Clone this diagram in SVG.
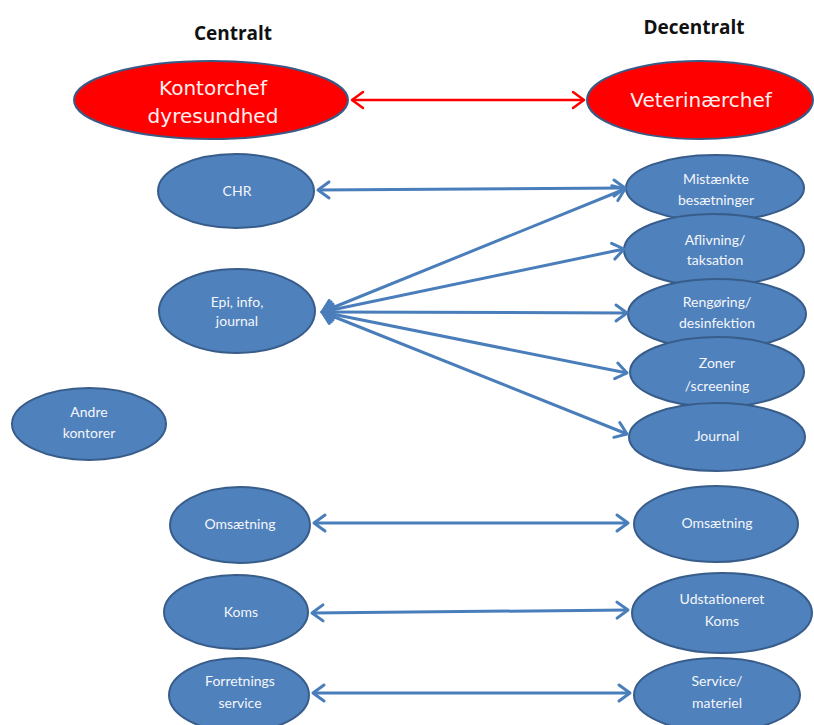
<svg xmlns="http://www.w3.org/2000/svg" width="814" height="725" viewBox="0 0 814 725">
<style>
.title{font-family:"Open Sans","DejaVu Sans",sans-serif;font-weight:bold;font-size:19px;fill:#111;text-anchor:middle}
.red ellipse{fill:#ff0000;stroke:#3a5a86;stroke-width:2}
.red text{font-family:"DejaVu Sans",sans-serif;font-size:20px;fill:#fff0f0;text-anchor:middle}
.blue ellipse{fill:#4f81bd;stroke:#385d8a;stroke-width:2}
.blue text{font-family:Lato,"Open Sans",sans-serif;font-size:14px;fill:#f4f6fa;text-anchor:middle}
.conn line{stroke:#4a7ebb;stroke-width:3;fill:none;marker-start:url(#hb);marker-end:url(#hb)}
.conn line.r{stroke:#ff0000;stroke-width:2.5;marker-start:url(#hr);marker-end:url(#hr)}
</style>
<defs>
<marker id="hb" markerUnits="userSpaceOnUse" viewBox="-14 -10 16 20" refX="0" refY="0" markerWidth="16" markerHeight="20" orient="auto-start-reverse" overflow="visible">
<path d="M -11 -8 L 0 0 L -11 8" fill="none" stroke="#4a7ebb" stroke-width="3" stroke-linecap="round" stroke-linejoin="round"/>
</marker>
<marker id="hr" markerUnits="userSpaceOnUse" viewBox="-14 -10 16 20" refX="0" refY="0" markerWidth="16" markerHeight="20" orient="auto-start-reverse" overflow="visible">
<path d="M -11 -8 L 0 0 L -11 8" fill="none" stroke="#ff0000" stroke-width="2.5" stroke-linecap="round" stroke-linejoin="round"/>
</marker>
</defs>
<rect width="814" height="725" fill="#ffffff"/>
<text class="title" x="233" y="40">Centralt</text>
<text class="title" x="694" y="34">Decentralt</text>

<g id="kontorchef" class="red"><ellipse cx="211" cy="100" rx="137" ry="39"/><text x="213" y="95">Kontorchef</text><text x="213" y="123">dyresundhed</text></g>
<g id="veterinaerchef" class="red"><ellipse cx="700" cy="100" rx="113" ry="39"/><text x="701" y="107">Veterinærchef</text></g>

<g id="chr" class="blue"><ellipse cx="236" cy="191" rx="78" ry="37"/><text x="237" y="196">CHR</text></g>
<g id="epi" class="blue"><ellipse cx="237" cy="311" rx="78" ry="42"/><text x="237" y="307">Epi, info,</text><text x="237" y="326">journal</text></g>
<g id="andre" class="blue"><ellipse cx="89" cy="424" rx="77" ry="36"/><text x="89" y="417">Andre</text><text x="89" y="438">kontorer</text></g>

<g id="mistaenkte" class="blue"><ellipse cx="715" cy="188" rx="89" ry="33"/><text x="716" y="184">Mistænkte</text><text x="716" y="205">besætninger</text></g>
<g id="aflivning" class="blue"><ellipse cx="714" cy="250" rx="90" ry="36"/><text x="715" y="245">Aflivning/</text><text x="715" y="265">taksation</text></g>
<g id="rengoring" class="blue"><ellipse cx="717" cy="314" rx="89" ry="35"/><text x="717" y="307">Rengøring/</text><text x="717" y="328">desinfektion</text></g>
<g id="zoner" class="blue"><ellipse cx="717" cy="372" rx="87" ry="35"/><text x="717" y="368">Zoner</text><text x="717" y="391">/screening</text></g>
<g id="journal" class="blue"><ellipse cx="717" cy="437" rx="88" ry="34"/><text x="717" y="441">Journal</text></g>

<g id="omsaetning-c" class="blue"><ellipse cx="240" cy="525" rx="70" ry="38"/><text x="240" y="529">Omsætning</text></g>
<g id="omsaetning-d" class="blue"><ellipse cx="716" cy="524" rx="82" ry="38"/><text x="717" y="528">Omsætning</text></g>
<g id="koms" class="blue"><ellipse cx="236" cy="612" rx="72" ry="37"/><text x="241" y="617">Koms</text></g>
<g id="udstationeret" class="blue"><ellipse cx="722" cy="613" rx="90" ry="40"/><text x="722" y="604">Udstationeret</text><text x="722" y="626">Koms</text></g>
<g id="forretnings" class="blue"><ellipse cx="239" cy="695" rx="70" ry="37"/><text x="240" y="686">Forretnings</text><text x="240" y="708">service</text></g>
<g id="service" class="blue"><ellipse cx="717" cy="695" rx="83" ry="37"/><text x="717" y="686">Service/</text><text x="717" y="708">materiel</text></g>

<g id="connectors" class="conn">
<line class="r" x1="352" y1="100" x2="584" y2="100"/>
<line x1="318" y1="190" x2="625" y2="188"/>
<line x1="322" y1="312" x2="625" y2="189"/>
<line x1="322" y1="312" x2="624" y2="249"/>
<line x1="322" y1="312" x2="627" y2="313"/>
<line x1="322" y1="312" x2="627" y2="373"/>
<line x1="322" y1="312" x2="627" y2="434"/>
<line x1="314" y1="523" x2="628" y2="523"/>
<line x1="312" y1="613" x2="628" y2="610"/>
<line x1="313" y1="693" x2="630" y2="693"/>
</g>
</svg>
